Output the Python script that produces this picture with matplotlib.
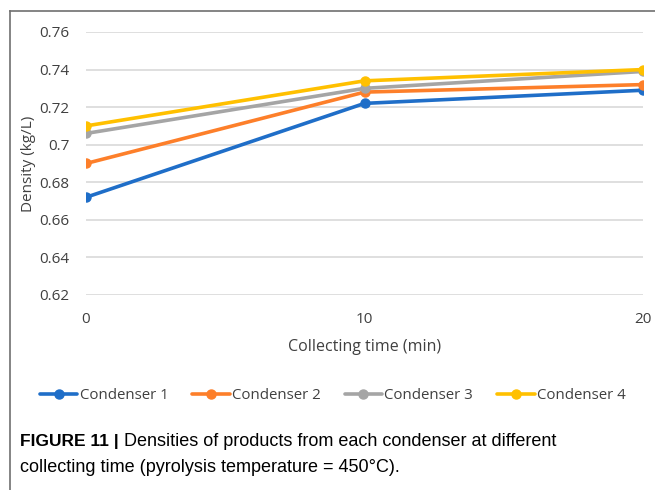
import matplotlib
matplotlib.use("Agg")
import matplotlib.pyplot as plt
from matplotlib.lines import Line2D

# collecting time (min) and product density (kg/L) per condenser
times = [0, 10, 20]
condenser_1 = [0.672, 0.722, 0.729]
condenser_2 = [0.690, 0.728, 0.732]
condenser_3 = [0.706, 0.730, 0.739]
condenser_4 = [0.710, 0.734, 0.740]
series_names = ["Condenser 1", "Condenser 2", "Condenser 3", "Condenser 4"]
colors = ["#1f6ec8", "#fd7f2a", "#a5a5a5", "#ffc000"]

y_ticks = [0.62, 0.64, 0.66, 0.68, 0.70, 0.72, 0.74, 0.76]
y_tick_labels = ["0.62", "0.64", "0.66", "0.68", "0.7", "0.72", "0.74", "0.76"]

plt.rcParams["font.family"] = ["Open Sans", "DejaVu Sans"]

fig = plt.figure(figsize=(6.55, 4.9), dpi=100)
ax = fig.add_axes([0.1313, 0.398, 0.8504, 0.5367])

for vals, name, c in zip([condenser_1, condenser_2, condenser_3, condenser_4],
                         series_names, colors):
    ax.plot(times, vals, color=c, lw=2.6, marker="o", ms=6.5, label=name,
            solid_capstyle="round")

ax.set_xlim(0, 20)
ax.set_ylim(0.62, 0.76)
ax.set_yticks(y_ticks)
ax.set_yticklabels(y_tick_labels)
ax.set_xticks(times)
ax.grid(axis="y", color="#d9d9d9", lw=1.2)
ax.set_axisbelow(True)
for s in ax.spines.values():
    s.set_visible(False)
ax.tick_params(length=0, labelsize=11, colors="#404040")
ax.tick_params(axis="y", pad=12)
ax.tick_params(axis="x", pad=12)
ax.set_xlabel("Collecting time (min)", fontsize=11.5, color="#404040", labelpad=9)
ax.set_ylabel("Density (kg/L)", fontsize=11, color="#404040", labelpad=2)

fig.legend(loc="center", bbox_to_anchor=(0.508, 0.192), ncol=4, frameon=False,
           fontsize=10.8, handlelength=2.5, handletextpad=0.15, columnspacing=1.6,
           labelcolor="#404040")

# outer frame lines (top and left)
fig.add_artist(Line2D([10 / 655, 10 / 655], [0, 1 - 11 / 490],
                      transform=fig.transFigure, color="#707070", lw=1.2))
fig.add_artist(Line2D([10 / 655, 1], [1 - 11 / 490, 1 - 11 / 490],
                      transform=fig.transFigure, color="#707070", lw=1.2))

cap_font = ["Liberation Sans Narrow", "Liberation Sans", "DejaVu Sans"]
fig.text(20 / 655, 1 - 441 / 490, "FIGURE 11 |", fontsize=12.5, weight="bold",
         family=cap_font, va="center", ha="left")
fig.text(124 / 655, 1 - 441 / 490,
         "Densities of products from each condenser at different",
         fontsize=13, family=cap_font, va="center", ha="left")
fig.text(20 / 655, 1 - 467 / 490,
         "collecting time (pyrolysis temperature = 450°C).",
         fontsize=13, family=cap_font, va="center", ha="left")

fig.savefig("out.png", dpi=100)
